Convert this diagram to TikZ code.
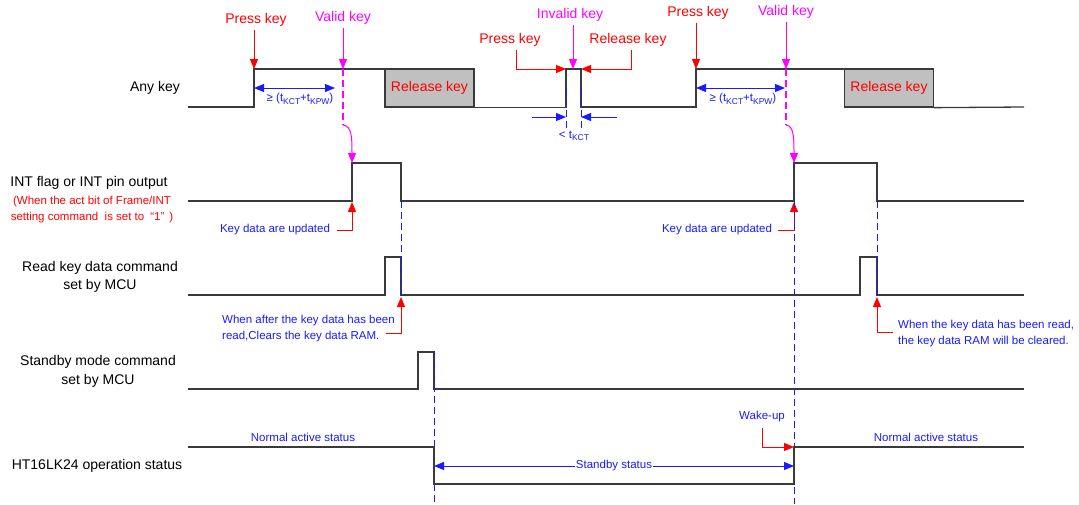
\documentclass[tikz,border=0pt]{standalone}
\usepackage{fontspec}
\setmainfont{Liberation Sans}
\usetikzlibrary{arrows.meta}
\definecolor{sig}{HTML}{3A3A3A}
\definecolor{boxgray}{HTML}{C0C0C0}
\definecolor{mag}{HTML}{FF00FF}
\definecolor{myblue}{HTML}{1A1AFF}
\definecolor{myred}{HTML}{FF0000}
\newcommand\sbs[1]{\raisebox{-0.35ex}{\fontsize{8.5}{9}\selectfont #1}}
\tikzset{
  sigline/.style={draw=sig, line width=1.3pt, line join=miter},
  lbl/.style={font=\fontsize{14}{17}\selectfont, inner sep=0pt, text=black},
  redlbl/.style={lbl, text=myred},
  maglbl/.style={lbl, text=mag},
  smallred/.style={font=\fontsize{11.5}{14}\selectfont, inner sep=0pt, text=myred},
  bluetxt/.style={font=\fontsize{11.5}{15.5}\selectfont, inner sep=0pt, text=myblue},
  tip/.style={-{Triangle[length=10pt,width=8pt]}},
  redarrow/.style={draw=myred, line width=1pt, tip},
  magarrow/.style={draw=mag, line width=1pt, tip},
  bluearrow/.style={draw=myblue, line width=1pt, tip},
  bluedbl/.style={draw=myblue, line width=1pt, {Triangle[length=10pt,width=8pt]}-{Triangle[length=10pt,width=8pt]}},
  bluedash/.style={draw=myblue, line width=1pt, dash pattern=on 7pt off 4pt},
  magdash/.style={draw=mag, line width=1.1pt, dash pattern=on 7pt off 4pt},
  keybox/.style={draw=sig, line width=1.3pt, fill=boxgray, minimum width=89pt, minimum height=38pt, inner sep=0pt, text=myred, font=\fontsize{14}{17}\selectfont}
}
\begin{document}
\begin{tikzpicture}[x=1pt,y=-1pt]
\useasboundingbox (0,0) rectangle (1079,504);

% ---------- left labels ----------
\node[lbl] (lAny) at (155,88) {Any key};
\node[lbl] (lInt) at (89,183) {INT flag or INT pin output};
\node[smallred] (lInt2) at (92,202) {(When the act bit of Frame/INT};
\node[smallred] (lInt3) at (92,218) {setting command\ \ is set to\hspace{6pt}“1”\hspace{5pt})};
\node[lbl] (lRead1) at (100,268) {Read key data command};
\node[lbl] (lRead2) at (100,286) {set by MCU};
\node[lbl] (lStb1) at (98,362) {Standby mode command};
\node[lbl] (lStb2) at (98,381) {set by MCU};
\node[lbl] (lOp) at (97,466) {HT16LK24 operation status};

% ---------- Any key waveform ----------
\coordinate (p1) at (254,69);
\coordinate (v1) at (343,69);
\coordinate (ia) at (566,69);
\coordinate (ib) at (581,69);
\coordinate (p2) at (696,69);
\coordinate (v2) at (786,69);
\draw[sigline] (188,107) -- (254,107) -- (p1) -- (385,69);
\node[keybox] (rk1) at (429.5,88) {Release key};
\draw[sigline] (rk1.south east) -- (ia |- rk1.south east) -- (ia) -- (ib) -- (581,107) -- (696,107) -- (p2) -- (844,69);
\node[keybox] (rk2) at (889,88) {Release key};
\draw[sigline] (rk2.south east) -- (1024,107);

% labels above
\node[redlbl] (pk1) at (256,20) {Press key};
\draw[redarrow] (pk1.south -| p1) ++(0,3) -- (p1);
\node[maglbl] (vk1) at (343,18) {Valid key};
\draw[magarrow] (vk1.south -| v1) ++(0,3) -- (v1);
\node[redlbl] (pk2) at (698,13) {Press key};
\draw[redarrow] (pk2.south -| p2) ++(0,3) -- (p2);
\node[maglbl] (vk2) at (786,12) {Valid key};
\draw[magarrow] (vk2.south -| v2) ++(0,3) -- (v2);

% invalid key
\node[maglbl] (ivk) at (570,15) {Invalid key};
\draw[magarrow] (ivk.south -| 573,0) ++(0,3) -- (573,69);
\node[redlbl] (pk3) at (510,40) {Press key};
\node[redlbl] (rk3) at (628,40) {Release key};
\draw[redarrow] (516,50) -- (516,69) -- (ia);
\draw[redarrow] (631,50) -- (631,69) -- (ib);
\draw[bluedash] (566,88) -- (566,128);
\draw[bluedash] (581,88) -- (581,128);
\coordinate (ka) at (532,117);
\coordinate (kb) at (617,117);
\draw[bluearrow] (ka) -- (566,117);
\draw[bluearrow] (kb) -- (581,117);
\node[bluetxt] (tkct) at (574,136) {< t\sbs{KCT}};

% duration arrows
\draw[bluedbl] (p1 |- 0,88) -- (335,88);
\node[bluetxt] (d1) at (300,99) {≥ (t\sbs{KCT}+t\sbs{KPW})};
\draw[bluedbl] (p2 |- 0,88) -- (785,88);
\node[bluetxt] (d2) at (743,99) {≥ (t\sbs{KCT}+t\sbs{KPW})};

% ---------- INT row ----------
\coordinate (i1) at (352,163);
\coordinate (i2) at (794,163);
\draw[sigline] (188,201) -- (352,201) -- (i1) -- (401,163) -- (401,201) -- (794,201) -- (i2) -- (877,163) -- (877,201) -- (1024,201);
\draw[magdash] (v1) -- (343,125);
\draw[magarrow] (343,125) .. controls (352,126) and (352,138) .. (i1);
\draw[magdash] (v2) -- (786,125);
\draw[magarrow] (786,125) .. controls (794,126) and (794,138) .. (i2);

\node[bluetxt] (kd1) at (275,230) {Key data are updated};
\draw[redarrow] (337,230) -- (352,230) -- (352,202);
\node[bluetxt] (kd2) at (717,230) {Key data are updated};
\draw[redarrow] (778,230) -- (794,230) -- (794,202);

% ---------- Read key row ----------
\draw[sigline] (188,295) -- (385,295) -- (385,257) -- (401,257) -- (401,295) -- (860,295) -- (860,257) -- (877,257) -- (877,295) -- (1024,295);
\draw[bluedash] (401,201) -- (401,295);
\draw[bluedash] (877,201) -- (877,295);
\node[bluetxt, anchor=west, align=left] (clr1) at (222,328.5) {When after the key data has been\\read,Clears the key data RAM.};
\draw[redarrow] (386,333) -- (401,333) -- (401,297);
\node[bluetxt, anchor=west, align=left] (clr2) at (898,333.5) {When the key data has been read,\\the key data RAM will be cleared.};
\draw[redarrow] (893,332) -- (877,332) -- (877,297);

% ---------- Standby row ----------
\draw[sigline] (188,389) -- (418,389) -- (418,352) -- (434,352) -- (434,389) -- (1024,389);
\draw[bluedash] (434,352) -- (434,504);
\draw[bluedash] (794,201) -- (794,504);

% ---------- operation status ----------
\draw[sigline] (188,447) -- (434,447) -- (434,484) -- (794,484) -- (794,447) -- (1024,447);
\node[bluetxt] (na1) at (303,437) {Normal active status};
\node[bluetxt] (na2) at (926,437) {Normal active status};
\node[bluetxt, inner sep=1pt] (sb) at (614,466) {Standby status};
\draw[bluearrow] (sb.west) -- (434,466);
\draw[bluearrow] (sb.east) -- (794,466);
\node[bluetxt] (wu) at (762,417) {Wake-up};
\draw[redarrow] (762,428) -- (762,447) -- (794,447);
\end{tikzpicture}
\end{document}
